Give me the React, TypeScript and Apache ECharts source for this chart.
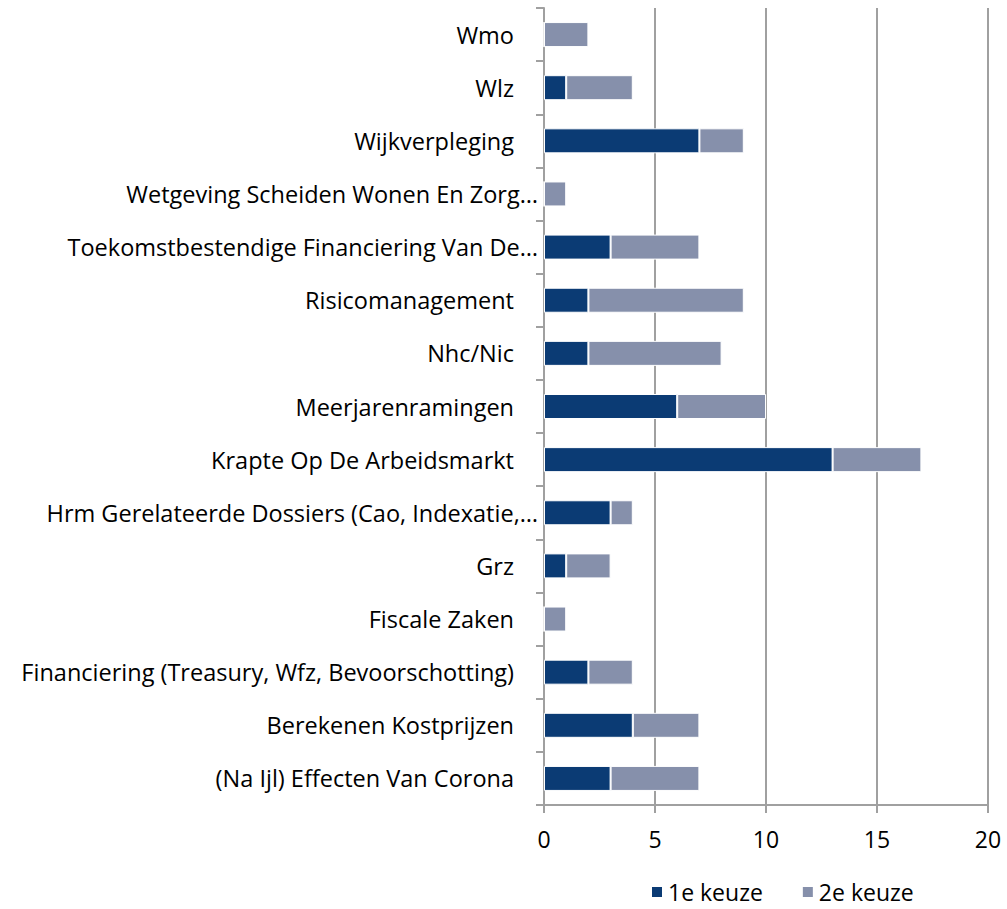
import React, { useEffect, useRef } from "react";
import * as echarts from "echarts";

const categories = [
  "(Na Ijl) Effecten Van Corona",
  "Berekenen Kostprijzen",
  "Financiering (Treasury, Wfz, Bevoorschotting)",
  "Fiscale Zaken",
  "Grz",
  "Hrm Gerelateerde Dossiers (Cao, Indexatie,…",
  "Krapte Op De Arbeidsmarkt",
  "Meerjarenramingen",
  "Nhc/Nic",
  "Risicomanagement",
  "Toekomstbestendige Financiering Van De…",
  "Wetgeving Scheiden Wonen En Zorg…",
  "Wijkverpleging",
  "Wlz",
  "Wmo",
];
const keuze1 = [3, 4, 2, 0, 1, 3, 13, 6, 2, 2, 3, 0, 7, 1, 0];
const keuze2 = [4, 3, 2, 1, 2, 1, 4, 4, 6, 7, 4, 1, 2, 3, 2];
const seriesNames = ["1e keuze", "2e keuze"];
const colors = ["#0B3B74", "#8690AB"];

const FONT = "'Open Sans', 'Liberation Sans', sans-serif";
const GRAY = "#A0A0A0";
const CAT_SIZE = 23.5;

export default function App() {
  const ref = useRef<HTMLDivElement>(null);
  useEffect(() => {
    document.body.style.margin = "0";
    const chart = echarts.init(ref.current!, null, { renderer: "svg" });
    chart.setOption({
      animation: false,
      textStyle: { fontFamily: FONT },
      grid: { left: 544, right: 19, top: 8, bottom: 104 },
      legend: {
        data: seriesNames,
        left: 650,
        top: 878,
        padding: 0,
        icon: "rect",
        itemWidth: 12,
        itemHeight: 12,
        itemGap: 38,
        textStyle: { fontSize: 23, color: "#000", fontFamily: FONT, lineHeight: 28 },
      },
      xAxis: {
        type: "value",
        min: 0,
        max: 20,
        interval: 5,
        axisLine: { show: true, lineStyle: { color: GRAY, width: 2 } },
        axisTick: { show: true, length: 8, lineStyle: { color: GRAY, width: 2 } },
        splitLine: { show: true, lineStyle: { color: GRAY, width: 2 } },
        axisLabel: { fontSize: 23, color: "#000", margin: 22, fontFamily: FONT },
      },
      yAxis: {
        type: "category",
        data: categories,
        axisLine: { show: true, lineStyle: { color: GRAY, width: 2 } },
        axisTick: { show: true, length: 8, lineStyle: { color: GRAY, width: 2 } },
        axisLabel: {
          fontSize: CAT_SIZE,
          color: "#000",
          margin: 6,
          fontFamily: FONT,
          formatter: (v: string) => (v.endsWith("…") ? `{t|${v}}` : `{n|${v}}`),
          rich: {
            t: { fontSize: CAT_SIZE, color: "#000", fontFamily: FONT },
            n: { fontSize: CAT_SIZE, color: "#000", fontFamily: FONT, padding: [0, 24, 0, 0] },
          },
        },
      },
      series: [keuze1, keuze2].map((d, i) => ({
        name: seriesNames[i],
        type: "bar",
        stack: "total",
        data: d,
        barWidth: 25,
        itemStyle: { color: colors[i], borderColor: "#fff", borderWidth: 1 },
      })),
    });
    return () => chart.dispose();
  }, []);
  return <div ref={ref} style={{ width: 1007, height: 909 }} />;
}
